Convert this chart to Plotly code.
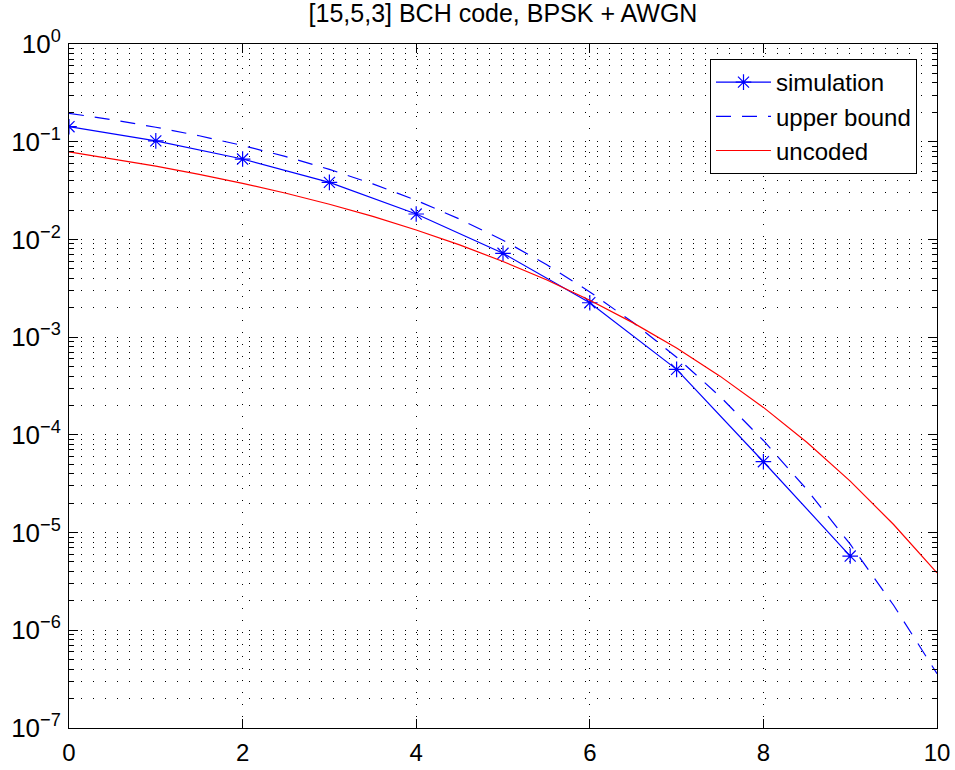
import plotly.graph_objects as go

# ---------------- data ----------------
snr_sim = [0, 1, 2, 3, 4, 5, 6, 7, 8, 9]
ber_sim = [0.1425, 0.102, 0.0665, 0.0384, 0.0182, 0.00721, 0.00225, 4.68e-4, 5.31e-5, 5.75e-6]

snr_curve = [0, 0.5, 1, 1.5, 2, 2.5, 3, 3.5, 4, 4.5, 5, 5.5, 6, 6.5, 7, 7.5, 8, 8.5, 9, 9.5, 10]
ber_bound = [0.1955, 0.1678, 0.1407, 0.1150, 0.0915, 0.07037, 0.05218, 0.03707, 0.02513,
             0.01615, 0.009807, 0.005534, 0.002904, 0.001409, 6.231e-4, 2.471e-4,
             8.761e-5, 2.766e-5, 7.597e-6, 1.804e-6, 3.60e-7]
ber_uncoded = [0.0786, 0.0671, 0.0563, 0.0464, 0.0375, 0.0297, 0.0229, 0.0172, 0.0125,
               0.00879, 0.00595, 0.00386, 0.00239, 0.00140, 7.73e-4, 3.99e-4,
               1.91e-4, 8.40e-5, 3.36e-5, 1.21e-5, 3.87e-6]

series_names = ["simulation", "upper bound", "uncoded"]
title_text = "[15,5,3] BCH code, BPSK + AWGN"
x_ticks = [0, 2, 4, 6, 8, 10]
y_exponents = [-7, -6, -5, -4, -3, -2, -1, 0]

# ---------------- figure ----------------
y_tickvals = [10.0 ** e for e in y_exponents]
y_ticktext = ["10<sup>" + ("\u2212" if e < 0 else "") + str(abs(e)) + "</sup>" for e in y_exponents]
y_minor = [m * 10.0 ** e for e in y_exponents[:-1] for m in range(2, 10)]

BLUE = "#0000ff"
RED = "#ff0000"
FONT = "Liberation Sans, Arial, Helvetica, sans-serif"
DOTS = "1px,11px"

fig = go.Figure()
fig.add_trace(go.Scatter(
    x=snr_sim, y=ber_sim, name=series_names[0], mode="lines+markers",
    line=dict(color=BLUE, width=1.2),
    marker=dict(symbol="asterisk-open", size=13, color=BLUE,
                line=dict(color=BLUE, width=1.2)),
))
fig.add_trace(go.Scatter(
    x=snr_curve, y=ber_bound, name=series_names[1], mode="lines",
    line=dict(color=BLUE, width=1.2, dash="15px,11px"),
))
fig.add_trace(go.Scatter(
    x=snr_curve, y=ber_uncoded, name=series_names[2], mode="lines",
    line=dict(color=RED, width=1.2),
))

fig.update_layout(
    width=955, height=770, autosize=False,
    margin=dict(l=69, r=18, t=44, b=42, pad=0, autoexpand=False),
    paper_bgcolor="white", plot_bgcolor="white",
    font=dict(family=FONT, color="black", size=24),
    title=dict(text=title_text, x=0.5, xref="paper", xanchor="center",
               y=1 - 13 / 770, yref="container", yanchor="middle",
               font=dict(family=FONT, size=25, color="black")),
    showlegend=True,
    legend=dict(x=(917 - 69) / 868, xanchor="right", y=(728 - 59) / 684, yanchor="top",
                bgcolor="white", bordercolor="black", borderwidth=1,
                font=dict(family=FONT, size=24, color="black"),
                itemwidth=55, tracegroupgap=0),
)

fig.update_xaxes(
    range=[0, 10], tickmode="array", tickvals=x_ticks,
    ticks="inside", ticklen=9, tickwidth=1, tickcolor="black",
    showline=True, linecolor="black", linewidth=1, mirror="ticks",
    showgrid=True, gridcolor="black", gridwidth=1, griddash=DOTS,
    zeroline=False, ticklabelstandoff=3, automargin=False,
    tickfont=dict(family=FONT, size=24, color="black"),
)
fig.update_yaxes(
    type="log", range=[-7, 0], tickmode="array", tickvals=y_tickvals, ticktext=y_ticktext,
    ticks="inside", ticklen=9, tickwidth=1, tickcolor="black",
    showline=True, linecolor="black", linewidth=1, mirror="ticks",
    showgrid=True, gridcolor="black", gridwidth=1, griddash=DOTS,
    zeroline=False, ticklabelstandoff=2, automargin=False,
    tickfont=dict(family=FONT, size=26, color="black"),
    minor=dict(tickmode="array", tickvals=y_minor, ticks="inside", ticklen=5,
               tickwidth=1, tickcolor="black",
               showgrid=True, gridcolor="black", gridwidth=1, griddash=DOTS),
)

fig.write_html("out.html")
